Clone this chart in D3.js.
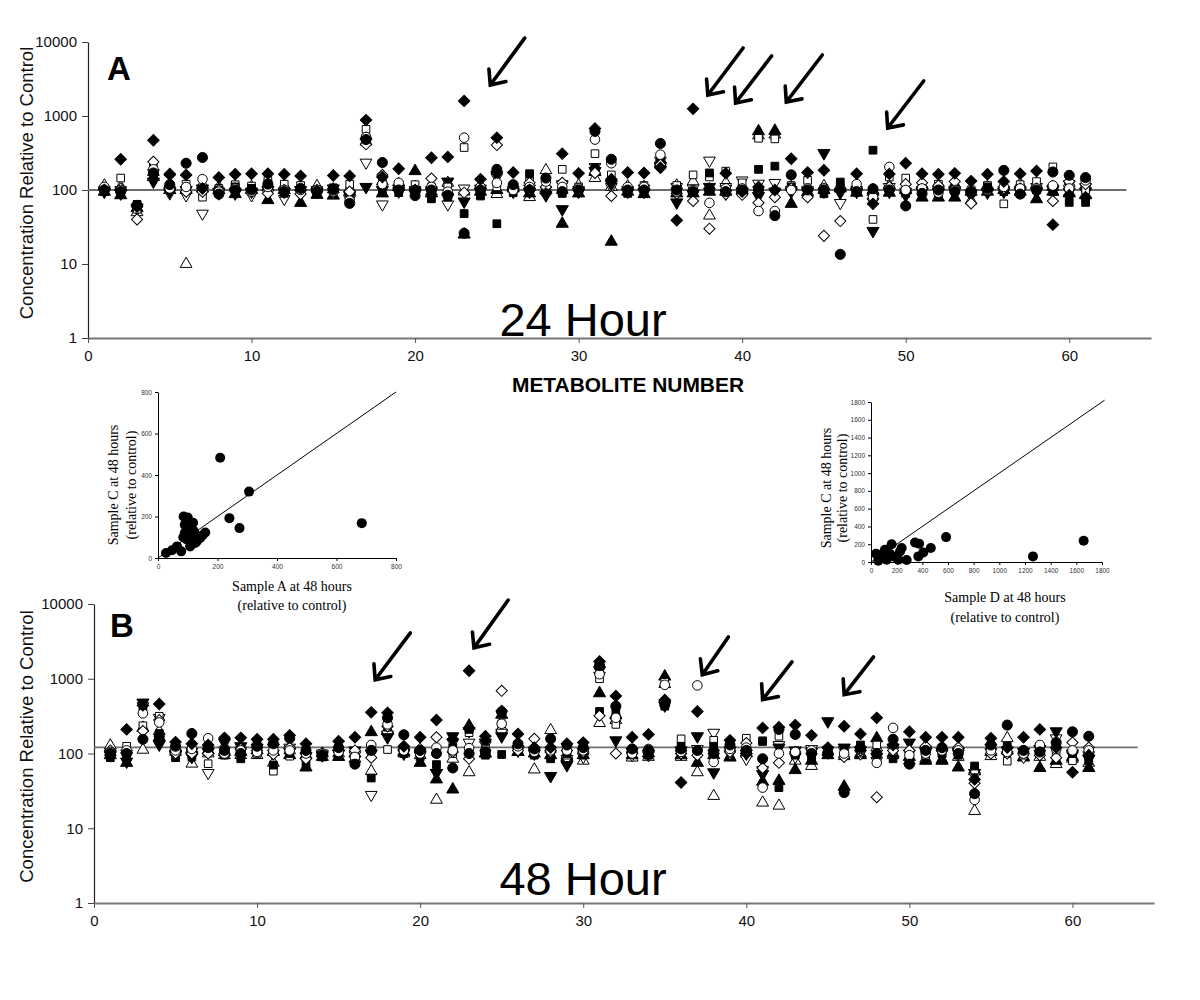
<!DOCTYPE html>
<html><head><meta charset="utf-8">
<script src="https://cdn.jsdelivr.net/npm/d3@7"></script>
<style>body{margin:0;background:#fff}svg{display:block}</style>
</head><body>
<script>
// ---------------- DATA ----------------
const metabolites = d3.range(1, 62);
const yTicks = [1, 10, 100, 1000, 10000];
const xTicks = [0, 10, 20, 30, 40, 50, 60];
const seriesKeys = ['otu','ftu','otd','ftd','os','fs','od','oc','fc','fd'];

// Panel A (24 hour)
const A_fc  = [100,95,62,170,118,230,275,88,100,100, 120,95,105,95,100,66,480,235,100,84, 100,85,26,100,190,118,100,145,95,100, 620,260,100,100,425,100,95,100,95,100, 100,45,160,100,100,13.5,95,104,100,61, 90,100,95,95,105,184,88,100,175,158,147];
const A_oc  = [110,100,60,190,105,110,140,95,105,95, 110,100,100,100,95,72,520,120,125,100, 110,95,510,110,125,100,110,130,110,105, 480,230,110,110,300,95,100,67,105,105, 52,52,100,105,105,100,120,80,205,100, 105,92,100,100,100,110,105,105,115,105,135];
const A_ftd = [95,90,58,130,95,100,105,95,90,95, 100,95,100,95,105,85,110,100,105,95, 95,130,70,95,160,95,95,85,55,95, 180,120,95,95,210,68,88,110,90,95, 83,95,95,95,315,92,95,28,95,85, 95,95,95,90,95,95,95,95,100,95,95];
const A_otd = [100,100,55,170,90,85,48,90,95,85, 90,76,90,100,95,75,235,64,95,100, 100,64,105,105,150,100,105,100,120,100, 205,110,100,105,250,110,105,250,110,135, 122,125,100,100,95,67,100,70,110,95, 100,100,100,85,92,100,100,110,105,120,110];
const A_fs  = [95,100,64,160,110,100,100,100,110,105, 120,90,95,100,107,84,500,95,92,100, 76,80,48,83,35,92,166,95,90,95, 200,250,90,90,240,100,92,170,100,100, 190,210,110,95,89,128,100,345,100,90, 95,90,105,92,110,95,90,100,95,68,68];
const A_os  = [105,145,55,200,105,120,80,105,118,113, 135,120,115,100,100,120,660,125,110,118, 110,110,375,100,110,110,130,105,190,110, 310,160,105,115,280,115,160,150,180,125, 500,490,115,135,105,110,110,40,150,145, 110,120,102,100,115,65,118,130,205,100,100];
const A_fd  = [100,260,60,470,165,160,105,148,163,166, 166,163,155,95,157,155,880,150,194,100, 273,280,1600,140,510,172,100,90,310,168, 680,140,172,170,200,39,1250,105,168,95, 110,100,265,172,185,100,166,65,165,230, 166,163,168,132,163,130,166,181,34,85,80];
const A_od  = [105,105,40,240,160,95,95,100,105,100, 90,100,88,100,100,95,415,160,100,95, 143,90,92,110,405,100,125,110,125,100, 170,83,100,100,220,90,71,30,88,86, 67,80,105,80,24,38,105,75,110,120, 125,115,130,66,100,105,105,105,71,130,120];
const A_ftu = [95,85,57,150,100,100,105,100,88,100, 73,100,67,86,84,95,540,90,110,180, 90,95,25,95,100,105,90,100,35,90, 175,20,95,88,230,90,90,95,95,100, 620,630,65,93,100,105,92,95,92,100, 79,79,79,95,95,100,95,75,95,90,85];
const A_otu = [115,110,50,175,120,10,120,110,110,110, 110,115,110,113,102,105,450,130,120,110, 95,125,95,115,88,110,80,185,100,115, 145,110,112,110,260,115,130,45,125,115, 545,560,110,110,113,115,110,100,115,110, 115,112,120,72,110,115,120,120,110,125,115];

// Panel B (48 hour)
const B_fc  = [100,100,155,170,125,185,120,110,100,125, 135,160,110,95,120,72,110,300,178,110, 100,64,100,105,360,135,115,157,130,120, 1500,430,115,110,450,115,110,100,130,110, 85,210,180,100,100,30,120,100,155,72, 110,120,100,29,130,240,110,105,140,195,170];
const B_oc  = [105,110,345,260,110,115,160,100,110,105, 110,110,100,100,105,90,130,245,110,100, 120,110,118,110,250,125,105,110,110,110, 1150,300,100,115,830,105,815,77,115,120, 35,100,105,110,105,100,115,75,220,95, 100,110,110,24,110,105,100,130,115,110,110];
const B_ftd = [95,78,480,132,100,90,105,140,125,120, 120,105,92,95,100,110,100,165,100,95, 55,170,200,140,170,110,100,50,70,105, 1300,150,105,100,440,110,170,56,110,100, 53,120,110,105,270,120,110,90,120,140, 105,105,105,55,120,110,105,115,198,100,85];
const B_otd = [100,100,430,300,95,105,55,110,110,110, 100,120,80,100,100,95,28,180,105,100, 55,140,140,130,190,115,105,100,85,90, 1100,270,95,95,460,100,115,190,100,85, 60,130,90,115,110,110,100,80,110,100, 110,100,100,50,105,95,90,100,160,95,95];
const B_fs  = [88,95,420,185,88,90,125,95,85,135, 70,100,70,90,95,90,47,280,100,90, 71,120,210,95,97,110,95,85,100,95, 365,360,100,95,430,125,100,125,140,105, 145,35,95,85,105,105,130,95,85,95, 100,100,95,68,125,125,100,100,130,100,80];
const B_os  = [105,125,235,315,110,110,73,115,100,100, 58,92,110,100,105,85,118,113,110,100, 110,100,190,115,250,120,110,110,95,100, 1000,245,105,105,900,157,105,150,110,160, 148,170,100,105,100,95,120,130,105,105, 95,100,100,60,110,79,95,125,105,80,90];
const B_fd  = [95,210,440,460,142,135,130,162,162,155, 155,175,135,95,146,165,355,350,125,165, 280,155,1280,170,370,183,120,120,135,140, 1700,590,165,180,520,41,365,110,150,100, 220,225,240,175,120,232,183,300,130,195, 165,165,165,45,160,120,165,210,120,56,95];
const B_od  = [110,100,200,280,100,100,100,100,115,110, 98,120,85,100,110,110,88,230,115,115, 165,105,85,110,690,110,157,105,110,105, 320,100,100,110,480,100,95,100,105,138, 64,75,105,100,100,90,110,26,110,110, 125,110,120,40,100,100,105,95,88,140,120];
const B_ftu = [95,75,220,165,118,115,110,105,105,110, 105,95,65,90,90,100,193,200,105,75, 45,33,235,100,330,105,100,95,90,95, 640,330,95,100,1070,95,75,95,90,100, 42,43,60,80,95,36,95,160,100,90, 80,80,65,58,105,110,90,64,80,90,64];
const B_otu = [128,113,112,200,105,73,100,95,95,95, 75,110,95,100,100,85,58,210,100,95, 24,85,56,100,220,105,61,205,95,80, 255,280,88,90,850,90,56,27,88,110, 22,20,80,68,105,92,100,120,95,80, 85,83,90,17,92,160,88,90,72,85,75];

// reference lines (value, x-extent) and arrows [tailX, tailV, headX, headV]
const A_ref = {value: 100, xEnd: 63.5};
const B_ref = {value: 121, xEnd: 64};
const A_arrows = [[26.7,11300,24.6,2620],[40.06,8300,37.9,1920],[41.8,6470,39.6,1500],[44.9,6670,42.7,1546],[51.1,2970,48.9,688]];
const B_arrows = [[19.4,4100,17.24,970],[25.4,11300,23.3,2590],[38.9,3630,37.3,1130],[42.8,1685,41.0,525],[47.8,1965,46.0,612]];

// Insets
const in1_x = [27,47,64,78,86,95,100,105,110,100,90,95,105,115,120,125,110,130,85,95,100,108,125,142,159,209,240,274,306,685,90,118,135,150];
const in1_y = [24,37,56,32,200,190,175,160,150,140,120,110,100,95,130,115,85,80,100,90,195,56,72,96,123,483,192,144,320,168,160,170,100,110];
const in1_ticks = [0,200,400,600,800];
const in2_x = [39,57,109,135,161,226,239,213,278,343,375,369,408,466,585,1262,1657,83,187,122,150,200,60,100];
const in2_y = [93,15,138,63,200,119,157,26,22,220,205,63,108,157,280,63,239,63,56,26,90,60,40,110];
const in2_ticks = [0,200,400,600,800,1000,1200,1400,1600,1800];

// ---------------- DRAW ----------------
const svg = d3.select('body').append('svg').attr('width',1200).attr('height',1000);
svg.append('rect').attr('width',1200).attr('height',1000).attr('fill','#fff');

const sym = {
  fc:{t:d3.symbolCircle,s:80,f:true,r:0}, oc:{t:d3.symbolCircle,s:72,f:false,r:0},
  fs:{t:d3.symbolSquare,s:60,f:true,r:0}, os:{t:d3.symbolSquare,s:58,f:false,r:0},
  fd:{t:d3.symbolSquare,s:66,f:true,r:45}, od:{t:d3.symbolSquare,s:62,f:false,r:45},
  ftu:{t:d3.symbolTriangle,s:64,f:true,r:0}, otu:{t:d3.symbolTriangle,s:60,f:false,r:0},
  ftd:{t:d3.symbolTriangle,s:64,f:true,r:180}, otd:{t:d3.symbolTriangle,s:60,f:false,r:180}
};

function panel(cfg){
  const g = svg.append('g');
  const x = d3.scaleLinear().domain([0,65]).range(cfg.xr);
  const y = d3.scaleLog().domain([1,10000]).range(cfg.yr);
  const ya = g.append('g').attr('transform',`translate(${cfg.xr[0]},0)`)
    .call(d3.axisLeft(y).tickValues(yTicks).tickFormat(d3.format('d')).tickSize(6).tickSizeOuter(0).tickPadding(5));
  ya.select('.domain').attr('stroke','#222').attr('stroke-width',1.2);
  ya.selectAll('.tick line').attr('stroke','#444');
  ya.selectAll('text').attr('font-family','Liberation Sans, Arial, sans-serif').attr('font-size',15).attr('fill','#111');
  const xa = g.append('g').attr('transform',`translate(0,${cfg.yr[0]})`)
    .call(d3.axisBottom(x).tickValues(xTicks).tickSize(5).tickSizeOuter(0).tickPadding(7));
  xa.select('.domain').attr('stroke','#777').attr('stroke-width',2);
  xa.selectAll('.tick line').attr('stroke','#555');
  xa.selectAll('text').attr('font-family','Liberation Sans, Arial, sans-serif').attr('font-size',15).attr('fill','#111');
  g.append('line').attr('x1',x(0)).attr('x2',x(cfg.ref.xEnd))
    .attr('y1',y(cfg.ref.value)).attr('y2',y(cfg.ref.value))
    .attr('stroke','#6e6e6e').attr('stroke-width',1.8);
  seriesKeys.forEach(k=>{
    const vals = cfg.data[k]; const s = sym[k];
    const path = d3.symbol().type(s.t).size(s.s)();
    g.append('g').selectAll('path').data(vals).join('path')
      .attr('d',path)
      .attr('transform',(v,i)=>`translate(${x(metabolites[i])},${y(v)}) rotate(${s.r})`)
      .attr('fill',s.f?'#000':'#fff').attr('stroke','#000').attr('stroke-width',1);
  });
  cfg.arrows.forEach(a=>{
    const x1=x(a[0]),y1=y(a[1]),x2=x(a[2]),y2=y(a[3]);
    const ang=Math.atan2(y1-y2,x1-x2), L=16, sp=0.72;
    const p=`M${x1},${y1}L${x2},${y2}M${x2+L*Math.cos(ang+sp)},${y2+L*Math.sin(ang+sp)}L${x2},${y2}L${x2+L*Math.cos(ang-sp)},${y2+L*Math.sin(ang-sp)}`;
    g.append('path').attr('d',p).attr('fill','none').attr('stroke','#000')
      .attr('stroke-width',3.6).attr('stroke-linecap','round').attr('stroke-linejoin','miter');
  });
  g.append('text').attr('x',cfg.letterPos[0]).attr('y',cfg.letterPos[1]).text(cfg.letter)
    .attr('font-family','Liberation Sans, Arial, sans-serif').attr('font-weight','bold').attr('font-size',33);
  g.append('text').attr('x',583).attr('y',cfg.bigY).attr('text-anchor','middle').text(cfg.big)
    .attr('font-family','Liberation Sans, Arial, sans-serif').attr('font-size',47);
  const yc=(cfg.yr[0]+cfg.yr[1])/2 - 7;
  g.append('text').attr('transform',`translate(33,${yc}) rotate(-90)`).attr('text-anchor','middle')
    .text('Concentration Relative to Control')
    .attr('font-family','Liberation Sans, Arial, sans-serif').attr('font-size',18.5).attr('fill','#111');
}

panel({xr:[88,1151], yr:[338,42], data:{fc:A_fc,oc:A_oc,ftd:A_ftd,otd:A_otd,fs:A_fs,os:A_os,fd:A_fd,od:A_od,ftu:A_ftu,otu:A_otu},
  ref:A_ref, arrows:A_arrows, letter:'A', letterPos:[107,80], big:'24 Hour', bigY:336});
panel({xr:[94,1154], yr:[903,604], data:{fc:B_fc,oc:B_oc,ftd:B_ftd,otd:B_otd,fs:B_fs,os:B_os,fd:B_fd,od:B_od,ftu:B_ftu,otu:B_otu},
  ref:B_ref, arrows:B_arrows, letter:'B', letterPos:[110,637], big:'48 Hour', bigY:895});

svg.append('text').attr('x',628).attr('y',392).attr('text-anchor','middle').text('METABOLITE NUMBER')
  .attr('font-family','Liberation Sans Narrow, Arial Narrow, Liberation Sans, sans-serif')
  .attr('font-weight','bold').attr('font-size',20).attr('textLength',232).attr('lengthAdjust','spacingAndGlyphs');

function inset(cfg){
  const g = svg.append('g');
  const x = d3.scaleLinear().domain(cfg.dom).range(cfg.xr);
  const y = d3.scaleLinear().domain(cfg.dom).range(cfg.yr);
  const fmt = d3.format('d');
  const xa = g.append('g').attr('transform',`translate(0,${cfg.yr[0]})`)
    .call(d3.axisBottom(x).tickValues(cfg.ticks).tickFormat(fmt).tickSize(3).tickSizeOuter(0).tickPadding(3));
  const ya = g.append('g').attr('transform',`translate(${cfg.xr[0]},0)`)
    .call(d3.axisLeft(y).tickValues(cfg.ticks).tickFormat(fmt).tickSize(3).tickSizeOuter(0).tickPadding(3));
  [xa,ya].forEach(a=>{a.selectAll('text').attr('font-family','Liberation Sans, Arial, sans-serif').attr('font-size',6.5).attr('fill','#333');
    a.select('.domain').attr('stroke','#000'); a.selectAll('.tick line').attr('stroke','#000');});
  g.append('line').attr('x1',x(0)).attr('y1',y(0)).attr('x2',x(cfg.lineEnd)).attr('y2',y(cfg.lineEnd))
    .attr('stroke','#000').attr('stroke-width',1);
  g.append('g').selectAll('circle').data(cfg.xs).join('circle')
    .attr('cx',d=>x(d)).attr('cy',(d,i)=>y(cfg.ys[i])).attr('r',5).attr('fill','#000');
  const ff='Liberation Serif, Times New Roman, serif';
  cfg.yl.forEach((t,i)=>g.append('text').attr('transform',`translate(${cfg.ylx[i]},${cfg.ylc}) rotate(-90)`)
    .attr('text-anchor','middle').text(t).attr('font-family',ff).attr('font-size',14));
  cfg.xl.forEach((t,i)=>g.append('text').attr('x',cfg.xlc).attr('y',cfg.xly[i])
    .attr('text-anchor','middle').text(t).attr('font-family',ff).attr('font-size',14));
}
inset({dom:[0,800], xr:[158,396], yr:[558,392], ticks:in1_ticks, lineEnd:800, xs:in1_x, ys:in1_y,
  yl:['Sample C at 48 hours','(relative to control)'], ylx:[118,136], ylc:485,
  xl:['Sample A at 48 hours','(relative to control)'], xlc:292, xly:[591,610]});
inset({dom:[0,1800], xr:[871,1102], yr:[562,402], ticks:in2_ticks, lineEnd:1820, xs:in2_x, ys:in2_y,
  yl:['Sample C at 48 hours','(relative to control)'], ylx:[831,847], ylc:488,
  xl:['Sample D at 48 hours','(relative to control)'], xlc:1005, xly:[602,622]});
</script>
</body></html>
